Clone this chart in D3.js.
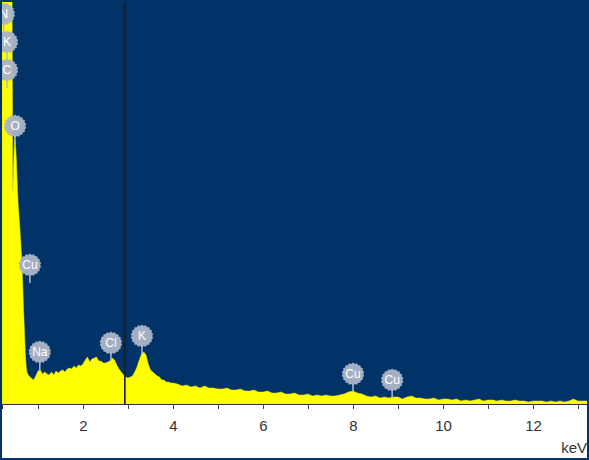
<!DOCTYPE html>
<html>
<head>
<meta charset="utf-8">
<script src="https://cdn.jsdelivr.net/npm/d3@7"></script>
<style>
  html, body { margin: 0; padding: 0; background: #fff; }
  svg { display: block; }
</style>
</head>
<body>
<svg id="chart" width="589" height="460"></svg>
<script>
// ---------- data ----------
const energyKeV = [
  0.20,0.24,0.28,0.32,0.36,0.40,0.42,0.44,0.46,0.48,0.50,0.52,0.54,0.56,0.60,0.64,0.68,0.72,0.74,0.76,
  0.80,0.85,0.90,0.95,1.00,1.05,1.10,1.15,1.20,1.25,1.30,1.35,1.40,1.45,1.50,1.55,1.60,1.65,1.70,1.75,
  1.80,1.85,1.90,1.95,2.00,2.05,2.10,2.15,2.20,2.25,2.30,2.35,2.40,2.45,2.50,2.55,2.60,2.65,2.70,2.75,
  2.80,2.85,2.90,2.95,3.00,3.05,3.10,3.15,3.20,3.25,3.30,3.35,3.40,3.45,3.50,3.55,3.60,3.65,3.70,3.75,
  3.80,3.85,3.90,3.95,4.00,
  4.1,4.2,4.3,4.4,4.5,4.6,4.7,4.8,4.9,5.0,5.1,5.2,5.3,5.4,5.5,5.6,5.7,5.8,5.9,6.0,
  6.1,6.2,6.3,6.4,6.5,6.6,6.7,6.8,6.9,7.0,7.1,7.2,7.3,7.4,7.5,7.6,7.7,7.8,7.9,8.0,
  8.1,8.2,8.3,8.4,8.5,8.6,8.7,8.8,8.9,9.0,9.1,9.2,9.3,9.4,9.5,9.6,9.7,9.8,9.9,10.0,
  10.1,10.2,10.3,10.4,10.5,10.6,10.7,10.8,10.9,11.0,11.1,11.2,11.3,11.4,11.5,11.6,11.7,11.8,11.9,12.0,
  12.1,12.2,12.3,12.4,12.5,12.6,12.7,12.8,12.9,13.0,13.1,13.2
];
const counts = [
  6000,6000,6000,6000,6000,6000,4500,2110,2440,2640,2590,2440,2190,1990,1740,1440,940,490,360,310,
  280,260,240,280,330,340,300,320,300,290,320,290,330,310,330,340,320,350,360,350,
  380,360,390,380,400,440,470,420,450,460,470,430,430,410,410,420,430,460,440,390,
  350,320,290,270,260,270,280,320,370,440,500,520,490,400,340,320,300,280,270,240,
  240,220,220,210,210,
  200,180,190,170,180,160,180,160,160,150,150,160,140,140,150,130,130,140,120,120,
  130,110,110,120,100,100,110,90,90,100,80,90,80,90,80,80,90,100,120,130,
  110,100,80,70,80,60,70,60,70,70,50,70,80,60,60,50,50,60,40,50,
  50,40,50,30,40,30,40,50,30,40,40,30,40,30,30,40,30,30,20,30,
  30,30,20,30,20,30,20,30,50,30,30,30
];
// peak markers: element, energy (keV), label height (counts)
const peakNames   = ["N", "K", "C", "O", "Cu", "Na", "Cl", "K", "Cu", "Cu"];
const peakEnergy  = [0.24, 0.31, 0.31, 0.49, 0.82, 1.04, 2.62, 3.31, 8.00, 8.87];
const peakLabelAt = [3900, 3620, 3340, 2780, 1390, 520, 610, 680, 300, 240];
const cursorKeV = 2.93;
const majorTicks = d3.range(1, 14);
const minorTicks = d3.range(1, 66).map(i => +(i * 0.2).toFixed(1));
const axisUnit = "keV";

// ---------- layout ----------
const W = 589, H = 460;
const plotL = 2, plotR = 587, plotT = 0, plotB = 404;
const navy = "#023368";

const svg = d3.select("#chart");
const x = d3.scaleLinear().domain([0.2, 13.2]).range([plotL, plotR]);
const y = d3.scaleLinear().domain([0, 4040]).range([plotB, plotT]);

svg.append("rect").attr("x", 0).attr("y", 0).attr("width", W).attr("height", H).attr("fill", "#fff");
svg.append("rect").attr("x", plotL).attr("y", plotT).attr("width", plotR - plotL).attr("height", plotB - plotT).attr("fill", navy);

svg.append("defs").append("clipPath").attr("id", "clip")
  .append("rect").attr("x", plotL).attr("y", plotT).attr("width", plotR - plotL).attr("height", plotB - plotT);

const data = energyKeV.map((e, i) => ({ e, c: counts[i] }));
const area = d3.area().x(d => x(d.e)).y0(plotB).y1(d => y(d.c));
svg.append("path").datum(data).attr("clip-path", "url(#clip)")
  .attr("d", area).attr("fill", "#ffff00").attr("stroke", "#e8e800").attr("stroke-width", 0.5);

// cursor line
svg.append("line").attr("x1", x(cursorKeV)).attr("x2", x(cursorKeV))
  .attr("y1", plotT).attr("y2", plotB).attr("stroke", "#1b1b22").attr("stroke-width", 1.6);

// peak labels (scalloped discs)
const teeth = 18;
const disc = d3.lineRadial().curve(d3.curveLinearClosed)
  .angle(d => d.a).radius(d => d.r);
const discPts = d3.range(teeth * 2).map(i => ({ a: i * Math.PI / teeth, r: i % 2 ? 10.2 : 11.4 }));
const lab = svg.append("g").attr("clip-path", "url(#clip)");
peakNames.forEach((n, i) => {
  const cx = x(peakEnergy[i]), cy = y(peakLabelAt[i]);
  const g = lab.append("g").attr("transform", `translate(${cx},${cy})`);
  g.append("line").attr("x1", 0).attr("x2", 0).attr("y1", 9).attr("y2", 18)
    .attr("stroke", "#b3bccb").attr("stroke-width", 1.5);
  g.append("path").attr("d", disc(discPts)).attr("fill", "#a9b4c6").attr("opacity", 0.97);
  g.append("text").attr("text-anchor", "middle").attr("dy", "0.36em")
    .attr("font-family", "Liberation Sans, Arial, sans-serif").attr("font-size", 12)
    .attr("fill", "#ffffff").text(n);
});

// axis
const axG = svg.append("g").attr("transform", `translate(0,${plotB})`);
axG.call(d3.axisBottom(x).tickValues(minorTicks).tickSize(3).tickFormat(""));
axG.call(d3.axisBottom(x).tickValues(majorTicks).tickSize(5)
  .tickFormat(d => d % 2 === 0 ? d : ""));
axG.selectAll(".domain").attr("stroke", "#333").attr("stroke-width", 1);
axG.selectAll(".tick line").attr("stroke", "#444");
axG.selectAll(".tick text").attr("y", 16).attr("dy", "0.71em")
  .attr("font-family", "Liberation Sans, Arial, sans-serif").attr("font-size", 15).attr("fill", "#333");

svg.append("text").attr("x", 587).attr("y", 453).attr("text-anchor", "end")
  .attr("font-family", "Liberation Sans, Arial, sans-serif").attr("font-size", 15).attr("fill", "#333")
  .text(axisUnit);

// frame
svg.append("rect").attr("x", 1).attr("y", 1).attr("width", W - 2).attr("height", H - 2)
  .attr("fill", "none").attr("stroke", navy).attr("stroke-width", 2);
</script>
</body>
</html>
